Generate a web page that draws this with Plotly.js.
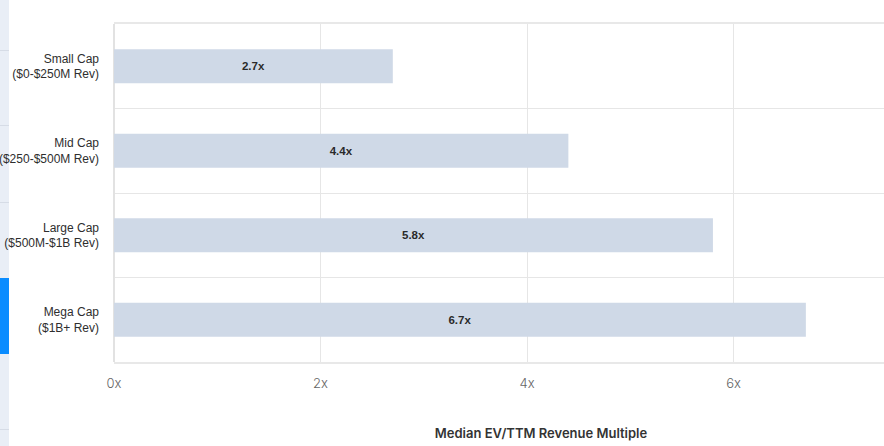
<!DOCTYPE html>
<html>
<head>
<meta charset="utf-8">
<script src="https://cdn.plot.ly/plotly-3.0.1.min.js"></script>
<style>
  html, body { margin: 0; padding: 0; background: #fff; overflow: hidden; }
  #wrap { position: relative; width: 884px; height: 446px; overflow: hidden; background: #fff; }
  #side { position: absolute; left: 0; top: 0; width: 9px; height: 446px; background: #e9eef6; z-index: 0; }
  .sep { position: absolute; left: 0; width: 9px; height: 1px; background: #d6dce6; }
  #active { position: absolute; left: 0; top: 278px; width: 9px; height: 76px; background: #0a8cff; }
  #chart { position: absolute; left: 0; top: 0; width: 1000px; height: 446px; z-index: 1; }
</style>
</head>
<body>
<div id="wrap">
  <div id="side">
    <div class="sep" style="top:50px"></div>
    <div class="sep" style="top:125px"></div>
    <div class="sep" style="top:202px"></div>
    <div class="sep" style="top:429px"></div>
    <div id="active"></div>
  </div>
  <div id="chart"></div>
</div>
<script>
const categories = [
  "Small Cap<br>($0-$250M Rev)",
  "Mid Cap<br>($250-$500M Rev)",
  "Large Cap<br>($500M-$1B Rev)",
  "Mega Cap<br>($1B+ Rev)"
];
const medianMultiples = [2.7, 4.4, 5.8, 6.7];
const barLabels = medianMultiples.map(v => v.toFixed(1) + "x");
const xTickValues = [0, 2, 4, 6];
const xTickLabels = ["0x", "2x", "4x", "6x"];

const trace = {
  type: "bar",
  orientation: "h",
  x: medianMultiples,
  y: categories,
  text: barLabels,
  textposition: "inside",
  insidetextanchor: "middle",
  textfont: { family: "Liberation Sans, Arial, sans-serif", size: 11.5, color: "#2a2a2a", weight: "bold" },
  marker: { color: "#cfd9e7" },
  hoverinfo: "none"
};

const layout = {
  width: 1000,
  height: 446,
  margin: { l: 114, r: 32, t: 24, b: 84 },
  paper_bgcolor: "rgba(0,0,0,0)",
  plot_bgcolor: "#ffffff",
  showlegend: false,
  bargap: 0.6,
  xaxis: {
    range: [0, 8.27],
    tickmode: "array",
    tickvals: xTickValues,
    ticktext: xTickLabels,
    showgrid: true,
    gridcolor: "#e6e6e6",
    gridwidth: 1,
    zeroline: true,
    zerolinecolor: "#e2e2e2",
    zerolinewidth: 2,
    showline: true,
    mirror: true,
    linecolor: "#e8e8e8",
    linewidth: 2,
    ticks: "",
    ticklabelstandoff: 8,
    tickfont: { family: "Inter, sans-serif", size: 13, color: "#666666", weight: 300 },
    title: {
      text: "Median EV/TTM Revenue Multiple",
      font: { family: "Inter, sans-serif", size: 13, color: "#333333", weight: 600 },
      standoff: 39
    }
  },
  yaxis: {
    type: "category",
    autorange: "reversed",
    tickson: "boundaries",
    showgrid: true,
    gridcolor: "#e6e6e6",
    gridwidth: 1,
    ticks: "",
    ticklabelstandoff: 14,
    tickfont: { family: "Liberation Sans, Arial, sans-serif", size: 12, color: "#2e2e2e" },
    showline: false
  }
};

Plotly.newPlot("chart", [trace], layout, { displayModeBar: false, staticPlot: true });
</script>
</body>
</html>
